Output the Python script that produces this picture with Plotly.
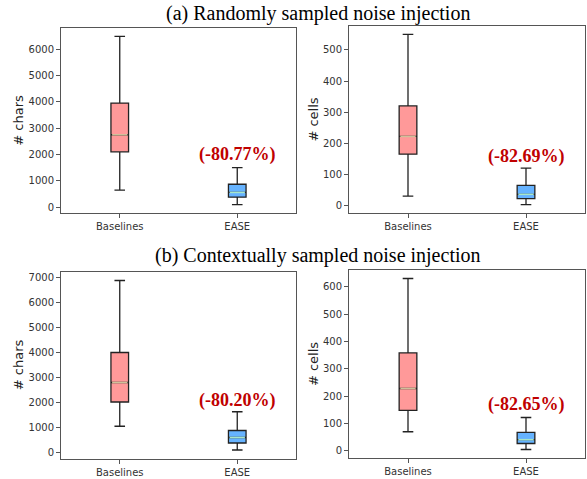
import plotly.graph_objects as go

categories = ["Baselines", "EASE"]
positions = [1, 2]

# stats: [lower whisker, q1, median, q3, upper whisker] per category
a_chars = {"Baselines": [650, 2100, 2750, 3950, 6480], "EASE": [100, 380, 560, 870, 1500]}
a_cells = {"Baselines": [30, 165, 222, 320, 550], "EASE": [3, 22, 36, 65, 120]}
b_chars = {"Baselines": [1050, 2020, 2800, 4000, 6880], "EASE": [100, 380, 600, 880, 1630]}
b_cells = {"Baselines": [70, 148, 228, 358, 630], "EASE": [5, 27, 41, 68, 122]}

reductions = ["(-80.77%)", "(-82.69%)", "(-80.20%)", "(-82.65%)"]
label_y = [2013, 156, 2097, 171]
y_titles = ["# chars", "# cells", "# chars", "# cells"]
titles = ["(a) Randomly sampled noise injection", "(b) Contextually sampled noise injection"]

fill_colors = {"Baselines": "#ff9999", "EASE": "#66b3ff"}
median_colors = {"Baselines": "#cfc09a", "EASE": "#a8e6c8"}
BOX_W = 0.15

W, H = 587, 479
def px_x(a, b):
    return [a / W, b / W]
def px_y(top, bot):
    return [1 - bot / H, 1 - top / H]

panels = [
    (a_chars, px_x(61, 296), px_y(28, 213), [-220, 6800], 1000),
    (a_cells, px_x(349, 585), px_y(26, 213), [-24, 577], 100),
    (b_chars, px_x(61, 296), px_y(271.5, 458.5), [-240, 7240], 1000),
    (b_cells, px_x(349, 585), px_y(270, 458), [-26, 661], 100),
]

fig = go.Figure()
layout = {}
for i, (data, xd, yd, yr, dt) in enumerate(panels):
    n = "" if i == 0 else str(i + 1)
    xa, ya = "x" + n, "y" + n
    for cat, pos in zip(categories, positions):
        lo, q1, med, q3, hi = data[cat]
        fig.add_trace(go.Box(
            x=[pos], lowerfence=[lo], q1=[q1], median=[med], q3=[q3], upperfence=[hi],
            width=BOX_W, whiskerwidth=0.6, fillcolor=fill_colors[cat],
            line=dict(color="#222222", width=1.3), boxpoints=False,
            showlegend=False, hoverinfo="skip", xaxis=xa, yaxis=ya,
        ))
        fig.add_trace(go.Scatter(
            x=[pos - BOX_W / 2 + 0.01, pos + BOX_W / 2 - 0.01], y=[med, med], mode="lines",
            line=dict(color=median_colors[cat], width=1.5), showlegend=False,
            hoverinfo="skip", xaxis=xa, yaxis=ya,
        ))
    fig.add_annotation(x=2, y=label_y[i], xref=xa, yref=ya, text="<b>" + reductions[i] + "</b>",
                       showarrow=False, font=dict(family="Liberation Serif", size=18, color="#c00000"))
    axis_common = dict(showline=True, linecolor="#555555", linewidth=1, mirror=True,
                       ticks="outside", ticklen=4, tickcolor="#555555", showgrid=False, zeroline=False,
                       tickfont=dict(family="DejaVu Sans", size=10, color="#333333"))
    layout["xaxis" + n] = dict(domain=xd, range=[0.5, 2.5], tickvals=positions, ticktext=categories,
                               anchor=ya, **axis_common)
    layout["yaxis" + n] = dict(domain=yd, range=yr, dtick=dt, anchor=xa,
                               title=dict(text=y_titles[i], font=dict(family="DejaVu Sans", size=13, color="#222222"),
                                          standoff=1), **axis_common)

fig.update_layout(**layout)
fig.add_annotation(x=318 / W, y=1 - 13 / H, xref="paper", yref="paper", yanchor="middle", text=titles[0],
                   showarrow=False, font=dict(family="Liberation Serif", size=20, color="black"))
fig.add_annotation(x=318 / W, y=1 - 256 / H, xref="paper", yref="paper", yanchor="middle", text=titles[1],
                   showarrow=False, font=dict(family="Liberation Serif", size=20, color="black"))
fig.update_layout(width=W, height=H, margin=dict(l=0, r=0, t=0, b=0),
                  paper_bgcolor="white", plot_bgcolor="white")
fig.write_html("out.html", config={"displayModeBar": False},
               post_script="document.body.style.margin='0';document.body.style.overflow='hidden';")
